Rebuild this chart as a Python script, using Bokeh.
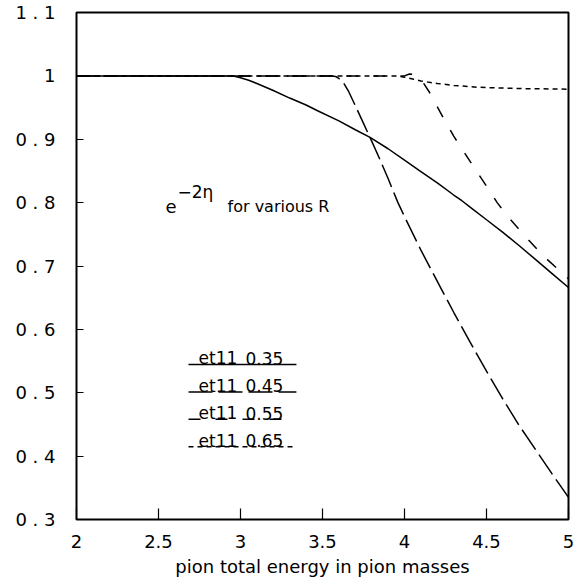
from bokeh.plotting import figure
from bokeh.models import Label, FixedTicker, Range1d
from bokeh.embed import file_html
from bokeh.resources import INLINE

# ---- data ----
energy_035 = [2.0, 2.5, 2.95, 3.0, 3.05, 3.1, 3.2, 3.3, 3.4, 3.47, 3.6, 3.7, 3.79, 3.9,
              4.0, 4.1, 4.2, 4.3, 4.35, 4.4, 4.5, 4.6, 4.7, 4.8, 4.9, 5.0]
exp_035 = [1.0, 1.0, 1.0, 0.997, 0.993, 0.988, 0.977, 0.965, 0.954, 0.945, 0.929, 0.915,
           0.903, 0.885, 0.867, 0.849, 0.831, 0.812, 0.803, 0.793, 0.773, 0.753, 0.732,
           0.71, 0.688, 0.666]

energy_045 = [2.0, 3.0, 3.55, 3.58, 3.6, 3.63, 3.66, 3.7, 3.75, 3.8, 3.85, 3.9, 3.96, 4.0,
              4.1, 4.22, 4.3, 4.4, 4.5, 4.6, 4.7, 4.8, 4.9, 5.0]
exp_045 = [1.0, 1.0, 1.0, 0.999, 0.996, 0.988, 0.975, 0.953, 0.925, 0.897, 0.868, 0.838,
           0.80, 0.778, 0.725, 0.666, 0.627, 0.58, 0.534, 0.49, 0.448, 0.41, 0.372, 0.335]

energy_055 = [2.0, 3.0, 4.0, 4.03, 4.06, 4.09, 4.12, 4.15, 4.19, 4.24, 4.3, 4.4, 4.5,
              4.565, 4.65, 4.75, 4.85, 5.0]
exp_055 = [1.0, 1.0, 1.0, 1.003, 1.002, 0.996, 0.987, 0.975, 0.956, 0.932, 0.905, 0.865,
           0.826, 0.80, 0.772, 0.743, 0.715, 0.68]

energy_065 = [2.0, 3.0, 3.95, 4.0, 4.05, 4.1, 4.2, 4.3, 4.45, 4.7, 5.0]
exp_065 = [1.0, 1.0, 1.0, 0.998, 0.995, 0.992, 0.988, 0.985, 0.982, 0.98, 0.979]

series_label = ["et11", "et11", "et11", "et11"]
series_param = ["0.35", "0.45", "0.55", "0.65"]
series_dash = ["solid", "24 6", "12 15", "5 4"]

x_ticks = [2, 2.5, 3, 3.5, 4, 4.5, 5]
x_tick_labels = ["2", "2.5", "3", "3.5", "4", "4.5", "5"]
y_ticks = [0.3, 0.4, 0.5, 0.6, 0.7, 0.8, 0.9, 1.0, 1.1]
y_tick_labels = ["0 . 3", "0 . 4", "0 . 5", "0 . 6", "0 . 7", "0 . 8", "0 . 9", "1", "1 . 1"]

x_title = "pion total energy in pion masses"

FONT = "DejaVu Sans"

p = figure(width=582, height=584, output_backend="svg", toolbar_location=None,
           x_range=Range1d(2, 5), y_range=Range1d(0.3, 1.1),
           min_border_left=76, min_border_right=14, min_border_top=12,
           min_border_bottom=65)
p.background_fill_color = "white"
p.border_fill_color = "white"
p.outline_line_color = "black"
p.outline_line_width = 2
p.grid.visible = False

p.xaxis.ticker = FixedTicker(ticks=x_ticks)
p.xaxis.major_label_overrides = {t: l for t, l in zip(x_ticks, x_tick_labels)}
p.yaxis.ticker = FixedTicker(ticks=y_ticks)
p.yaxis.major_label_overrides = {t: l for t, l in zip(y_ticks, y_tick_labels)}

for ax in (p.xaxis, p.yaxis):
    ax.axis_line_color = None
    ax.minor_tick_line_color = None
    ax.major_tick_out = 0
    ax.major_tick_line_color = "black"
    ax.major_tick_line_width = 1.2
    ax.major_label_text_font = FONT
    ax.major_label_text_font_size = "18px"
    ax.major_label_text_color = "black"
p.xaxis.major_tick_in = 11
p.yaxis.major_tick_in = 7
p.xaxis.major_label_standoff = 15
p.yaxis.major_label_standoff = 21
p.xaxis.axis_label = x_title
p.xaxis.axis_label_text_font = FONT
p.xaxis.axis_label_text_font_size = "18px"
p.xaxis.axis_label_text_font_style = "normal"
p.xaxis.axis_label_text_color = "black"
p.xaxis.axis_label_standoff = 5

curves = [(energy_035, exp_035), (energy_045, exp_045),
          (energy_055, exp_055), (energy_065, exp_065)]
for (xs, ys), dash in zip(curves, series_dash):
    p.line(xs, ys, line_color="black", line_width=1.5, line_dash=dash)

# legend (label with the line style underneath)
leg_x0, leg_x1 = 2.683, 3.341
leg_top = 0.5446
leg_step = 0.0433
for i, (lab, par, dash) in enumerate(zip(series_label, series_param, series_dash)):
    yl = leg_top - i * leg_step
    p.line([leg_x0, leg_x1], [yl, yl], line_color="black", line_width=1.5, line_dash=dash)
    p.add_layout(Label(x=2.744, y=yl + 0.0095, text=lab, text_font=FONT,
                       text_font_size="17px", text_color="black",
                       text_baseline="alphabetic"))
    p.add_layout(Label(x=3.03, y=yl + 0.0095, text=par, text_font=FONT,
                       text_font_size="17px", text_color="black",
                       text_baseline="alphabetic"))

# annotation e^{-2eta} for various R
p.add_layout(Label(x=2.543, y=0.7936, text="e", text_font=FONT,
                   text_font_size="18px", text_color="black", text_baseline="alphabetic"))
p.add_layout(Label(x=2.616, y=0.8174, text="\u22122\u03b7", text_font=FONT,
                   text_font_size="17px", text_color="black", text_baseline="alphabetic"))
p.add_layout(Label(x=2.921, y=0.7936, text="for various R", text_font=FONT,
                   text_font_size="16px", text_color="black", text_baseline="alphabetic"))

open("out.html", "w").write(file_html(p, INLINE))
